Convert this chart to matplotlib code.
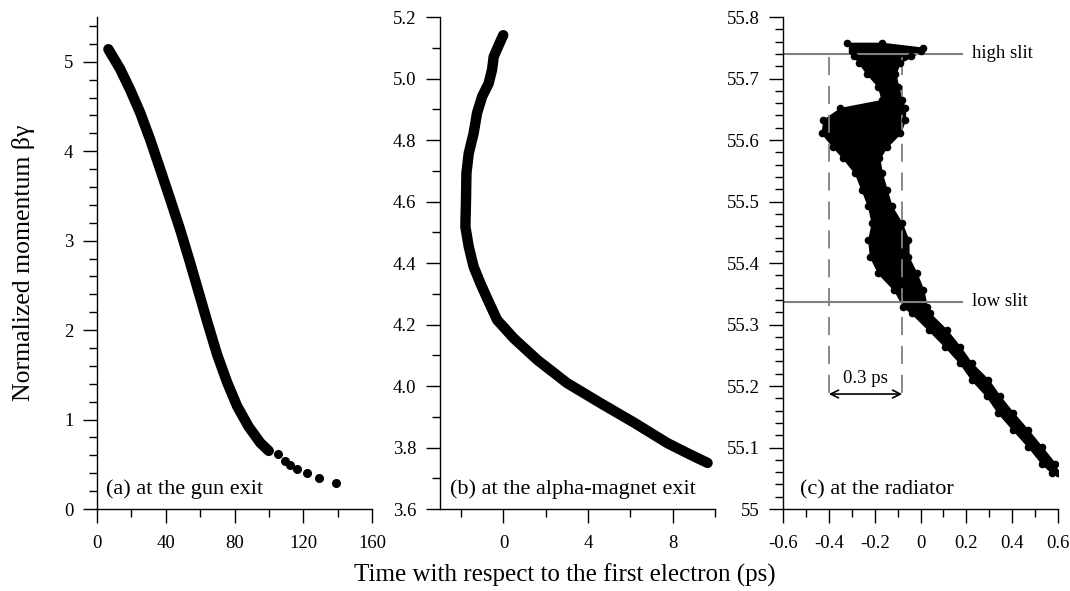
#!/usr/bin/env python3
import numpy as np
import matplotlib
matplotlib.use("Agg")
import matplotlib.pyplot as plt
from matplotlib.ticker import MultipleLocator, FormatStrFormatter

# (a) gun exit: dense part of the bunch, then the sparse tail particles
gun_t = [6.6, 13.4, 19.2, 25.1, 30.9, 36.7, 42.6, 48.4, 54.2, 60.1, 64.0,
         69.8, 75.6, 81.5, 88.2, 95.0, 99.9]
gun_p = [5.14, 4.92, 4.69, 4.43, 4.13, 3.80, 3.46, 3.12, 2.75, 2.36, 2.10,
         1.73, 1.42, 1.15, 0.92, 0.74, 0.65]
gun_tail_t = [105.0, 109.6, 112.5, 116.6, 122.0, 129.0, 139.0]
gun_tail_p = [0.62, 0.54, 0.49, 0.45, 0.40, 0.35, 0.29]

# (b) alpha-magnet exit
alpha_t = [-0.01, -0.22, -0.46, -0.54, -0.70, -1.01, -1.25, -1.41, -1.64, -1.75, -1.77,
           -1.80, -1.64, -1.41, -1.09, -0.77, -0.30, 0.49, 1.60, 3.00, 4.60, 6.20,
           7.76, 8.86, 9.65]
alpha_p = [5.141, 5.109, 5.071, 5.028, 4.984, 4.941, 4.887, 4.822, 4.757, 4.692, 4.605,
           4.518, 4.453, 4.388, 4.334, 4.285, 4.215, 4.155, 4.085, 4.010, 3.944, 3.880,
           3.814, 3.776, 3.750]

# (c) radiator: band outline (momentum level, left edge, right edge)
rad_p = [55.758, 55.750, 55.744, 55.736, 55.726, 55.708, 55.687, 55.665, 55.652, 55.633,
         55.611, 55.589, 55.570, 55.546, 55.519, 55.492, 55.465, 55.437, 55.410, 55.383,
         55.356, 55.329, 55.318, 55.291, 55.264, 55.237, 55.210, 55.183, 55.156, 55.128,
         55.101, 55.074, 55.058]
rad_left = [-0.32, -0.30, -0.30, -0.29, -0.27, -0.235, -0.185, -0.169, -0.35, -0.424,
            -0.431, -0.382, -0.337, -0.286, -0.257, -0.228, -0.213, -0.228, -0.220, -0.184,
            -0.115, -0.075, -0.038, 0.035, 0.107, 0.172, 0.223, 0.289, 0.339, 0.405,
            0.470, 0.529, 0.575]
rad_right = [-0.17, 0.01, 0.0, -0.04, -0.09, -0.11, -0.098, -0.082, -0.068, -0.068,
             -0.09, -0.148, -0.18, -0.169, -0.148, -0.126, -0.082, -0.053, -0.053, -0.017,
             0.012, 0.027, 0.041, 0.114, 0.172, 0.223, 0.296, 0.347, 0.405, 0.470,
             0.529, 0.587, 0.600]

high_slit = 55.74
low_slit = 55.337
slit_end = 0.18
window = [-0.40, -0.08]
window_bottom = 55.187

panel_labels = ["(a) at the gun exit", "(b) at the alpha-magnet exit", "(c) at the radiator"]

SERIF = ["Liberation Serif", "DejaVu Serif"]


def style_axis(ax):
    for side in ("top", "right"):
        ax.spines[side].set_visible(False)
    ax.tick_params(which="major", direction="out", length=10, width=1, pad=7, labelsize=13.5)
    ax.tick_params(which="minor", direction="out", length=5.5, width=1)
    ax.tick_params(axis="x", which="major", pad=9)
    for lab in ax.get_xticklabels() + ax.get_yticklabels():
        lab.set_family(SERIF)


def main() -> None:
    plt.rcParams.update({"font.family": SERIF, "axes.linewidth": 1.0})
    fig = plt.figure(figsize=(10.7, 5.91), dpi=100)
    bottom, height = 0.1387, 0.9712 - 0.1387
    ax_a = fig.add_axes([0.0907, bottom, 0.2570, height])
    ax_b = fig.add_axes([0.4112, bottom, 0.2570, height])
    ax_c = fig.add_axes([0.7318, bottom, 0.2570, height])

    # (a)
    ax_a.plot(gun_t, gun_p, color="black", lw=7.5, solid_capstyle="round", solid_joinstyle="round")
    ax_a.plot(gun_tail_t, gun_tail_p, "o", color="black", ms=5.5)
    ax_a.set_xlim(0, 160)
    ax_a.set_ylim(0, 5.5)
    ax_a.xaxis.set_major_locator(MultipleLocator(40))
    ax_a.xaxis.set_minor_locator(MultipleLocator(20))
    ax_a.yaxis.set_major_locator(MultipleLocator(1))
    ax_a.yaxis.set_minor_locator(MultipleLocator(0.2))

    # (b)
    ax_b.plot(alpha_t, alpha_p, color="black", lw=7.5, solid_capstyle="round", solid_joinstyle="round")
    ax_b.set_xlim(-3, 10)
    ax_b.set_ylim(3.6, 5.2)
    ax_b.xaxis.set_major_locator(MultipleLocator(4))
    ax_b.xaxis.set_minor_locator(MultipleLocator(2))
    ax_b.yaxis.set_major_locator(MultipleLocator(0.2))
    ax_b.yaxis.set_minor_locator(MultipleLocator(0.1))
    ax_b.yaxis.set_major_formatter(FormatStrFormatter("%.1f"))

    # (c)
    ax_c.fill_betweenx(rad_p, rad_left, rad_right, color="black", lw=1.0, edgecolor="black")
    ax_c.scatter(rad_left, rad_p, s=20, color="black", zorder=3)
    ax_c.scatter(rad_right, rad_p, s=20, color="black", zorder=3)
    ax_c.plot([-0.6, slit_end], [high_slit, high_slit], color="#808080", lw=1.5)
    ax_c.plot([-0.6, slit_end], [low_slit, low_slit], color="#808080", lw=1.5)
    ax_c.text(slit_end + 0.045, high_slit, "high slit", fontsize=13.5, va="center")
    ax_c.text(slit_end + 0.045, low_slit, "low slit", fontsize=13.5, va="center")
    for xv in window:
        ax_c.plot([xv, xv], [high_slit - 0.005, window_bottom - 0.01], color="#808080",
                  lw=1.3, dashes=(10, 6))
    ax_c.annotate("", xy=(window[0], window_bottom), xytext=(window[1], window_bottom),
                  arrowprops=dict(arrowstyle="<->", color="black", lw=1.2,
                                  shrinkA=0, shrinkB=0, mutation_scale=14))
    ax_c.text(np.mean(window), window_bottom + 0.012, f"{window[1] - window[0]:.1f} ps",
              fontsize=13.5, ha="center", va="bottom")
    ax_c.set_xlim(-0.6, 0.6)
    ax_c.set_ylim(55, 55.8)
    ax_c.xaxis.set_major_locator(MultipleLocator(0.2))
    ax_c.xaxis.set_minor_locator(MultipleLocator(0.1))
    ax_c.yaxis.set_major_locator(MultipleLocator(0.1))
    ax_c.yaxis.set_minor_locator(MultipleLocator(0.02))
    ax_c.xaxis.set_major_formatter(FormatStrFormatter("%g"))
    ax_c.yaxis.set_major_formatter(FormatStrFormatter("%g"))

    label_x = [0.033, 0.036, 0.062]
    for ax, lab, lx in zip((ax_a, ax_b, ax_c), panel_labels, label_x):
        style_axis(ax)
        ax.text(lx, 0.03, lab, transform=ax.transAxes, fontsize=16, va="baseline", ha="left")

    fig.text(0.022, 0.555, "Normalized momentum βγ", rotation=90,
             fontsize=18.5, ha="center", va="center")
    fig.text(0.528, 0.027, "Time with respect to the first electron (ps)",
             fontsize=18, ha="center", va="center")

    fig.savefig("out.png", dpi=100)
    plt.close(fig)


if __name__ == "__main__":
    main()
